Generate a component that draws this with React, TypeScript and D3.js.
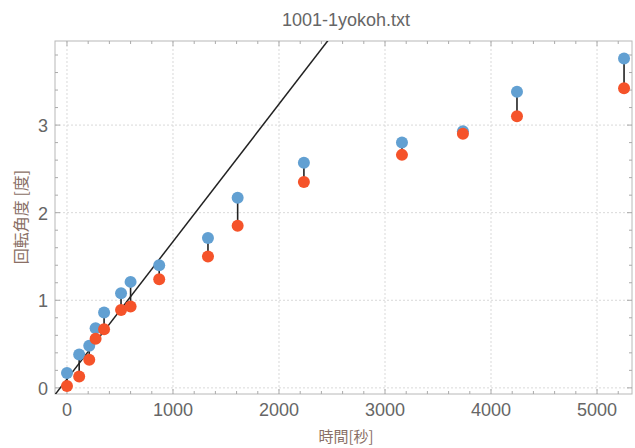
import { useEffect, useRef } from 'react';
import * as d3 from 'd3';

// time [s]
const TIMES = [0, 115, 210, 270, 350, 510, 600, 870, 1330, 1610, 2235, 3160, 3735, 4245, 5255];
// upper (blue) and lower (red) rotation angle [deg]
const UPPER = [0.17, 0.38, 0.48, 0.68, 0.86, 1.08, 1.21, 1.40, 1.71, 2.17, 2.57, 2.80, 2.93, 3.38, 3.76];
const LOWER = [0.02, 0.13, 0.32, 0.56, 0.67, 0.89, 0.93, 1.24, 1.50, 1.85, 2.35, 2.66, 2.90, 3.10, 3.42];
// fitted line: y = a + b*x
const FIT = { a: 0.1, b: 0.00157 };
const X_TICKS = [0, 1000, 2000, 3000, 4000, 5000];
const Y_TICKS = [0, 1, 2, 3];

const App = () => {
  const svgRef = useRef<SVGSVGElement>(null);

  useEffect(() => {
    if (!svgRef.current) return;
    const width = 635;
    const height = 448;
    const m = { top: 41, right: 3, bottom: 54, left: 55 };
    const grey = '#666';
    const font = 'Liberation Sans, Arial, sans-serif';

    d3.select(svgRef.current).selectAll('*').remove();
    const svg = d3.select(svgRef.current).attr('width', width).attr('height', height);

    const x = d3.scaleLinear().domain([-113, 5330]).range([m.left, width - m.right]);
    const y = d3.scaleLinear().domain([-0.07, 3.96]).range([height - m.bottom, m.top]);

    const clipId = 'plotclip';
    svg.append('clipPath').attr('id', clipId)
      .append('rect')
      .attr('x', m.left).attr('y', m.top)
      .attr('width', width - m.left - m.right)
      .attr('height', height - m.top - m.bottom);

    // grid
    svg.append('g').selectAll('line').data(X_TICKS).join('line')
      .attr('x1', d => x(d)).attr('x2', d => x(d))
      .attr('y1', m.top).attr('y2', height - m.bottom)
      .attr('stroke', '#d9d9d9').attr('stroke-dasharray', '2,2');
    svg.append('g').selectAll('line').data(Y_TICKS).join('line')
      .attr('y1', d => y(d)).attr('y2', d => y(d))
      .attr('x1', m.left).attr('x2', width - m.right)
      .attr('stroke', '#d9d9d9').attr('stroke-dasharray', '2,2');

    // frame
    svg.append('rect')
      .attr('x', m.left).attr('y', m.top)
      .attr('width', width - m.left - m.right)
      .attr('height', height - m.top - m.bottom)
      .attr('fill', 'none').attr('stroke', '#b8b8b8');

    // ticks on frame
    const minorX = d3.range(0, 5400, 200);
    const minorY = d3.range(0, 4, 0.2);
    const tg = svg.append('g').attr('stroke', '#aaa');
    minorX.forEach(v => {
      const len = v % 1000 === 0 ? 5 : 3;
      tg.append('line').attr('x1', x(v)).attr('x2', x(v))
        .attr('y1', height - m.bottom).attr('y2', height - m.bottom - len);
      tg.append('line').attr('x1', x(v)).attr('x2', x(v))
        .attr('y1', m.top).attr('y2', m.top + len);
    });
    minorY.forEach(v => {
      const len = Math.abs(v - Math.round(v)) < 1e-6 ? 5 : 3;
      tg.append('line').attr('y1', y(v)).attr('y2', y(v))
        .attr('x1', m.left).attr('x2', m.left + len);
      tg.append('line').attr('y1', y(v)).attr('y2', y(v))
        .attr('x1', width - m.right).attr('x2', width - m.right - len);
    });

    // tick labels
    svg.append('g').selectAll('text').data(X_TICKS).join('text')
      .attr('x', d => x(d)).attr('y', height - m.bottom + 22)
      .attr('text-anchor', 'middle')
      .attr('font-family', font)
      .attr('font-size', 18).attr('fill', grey)
      .text(d => d);
    svg.append('g').selectAll('text').data(Y_TICKS).join('text')
      .attr('x', m.left - 7).attr('y', d => y(d) + 7)
      .attr('text-anchor', 'end')
      .attr('font-family', font)
      .attr('font-size', 18).attr('fill', grey)
      .text(d => d);

    const plot = svg.append('g').attr('clip-path', `url(#${clipId})`);

    // fit line
    const xs = x.domain();
    plot.append('line')
      .attr('x1', x(xs[0])).attr('y1', y(FIT.a + FIT.b * xs[0]))
      .attr('x2', x(xs[1])).attr('y2', y(FIT.a + FIT.b * xs[1]))
      .attr('stroke', '#222').attr('stroke-width', 1.5);

    // connectors
    plot.append('g').selectAll('line').data(TIMES).join('line')
      .attr('x1', d => x(d)).attr('x2', d => x(d))
      .attr('y1', (_, i) => y(UPPER[i])).attr('y2', (_, i) => y(LOWER[i]))
      .attr('stroke', '#222').attr('stroke-width', 1.6);

    plot.append('g').selectAll('circle').data(TIMES).join('circle')
      .attr('cx', d => x(d)).attr('cy', (_, i) => y(UPPER[i]))
      .attr('r', 6).attr('fill', '#62a0d2');
    plot.append('g').selectAll('circle').data(TIMES).join('circle')
      .attr('cx', d => x(d)).attr('cy', (_, i) => y(LOWER[i]))
      .attr('r', 6).attr('fill', '#f5532a');

    // title & axis labels
    svg.append('text')
      .attr('x', 346).attr('y', 26)
      .attr('text-anchor', 'middle')
      .attr('font-family', font)
      .attr('font-size', 18).attr('fill', grey)
      .text('1001-1yokoh.txt');
    svg.append('text')
      .attr('x', 346).attr('y', 442)
      .attr('text-anchor', 'middle')
      .attr('font-family', 'Noto Sans CJK JP, sans-serif')
      .attr('font-size', 15).attr('fill', '#8a6f66')
      .text('時間[秒]');
    svg.append('text')
      .attr('transform', `translate(27,217) rotate(-90)`)
      .attr('text-anchor', 'middle')
      .attr('font-family', 'Noto Sans CJK JP, sans-serif')
      .attr('font-size', 16).attr('fill', '#8a6f66')
      .text('回転角度 [度]');
  }, []);

  return (
    <div style={{ position: 'absolute', left: 0, top: 0, background: '#fff' }}>
      <svg ref={svgRef} style={{ display: 'block' }} />
    </div>
  );
};

export default App;
